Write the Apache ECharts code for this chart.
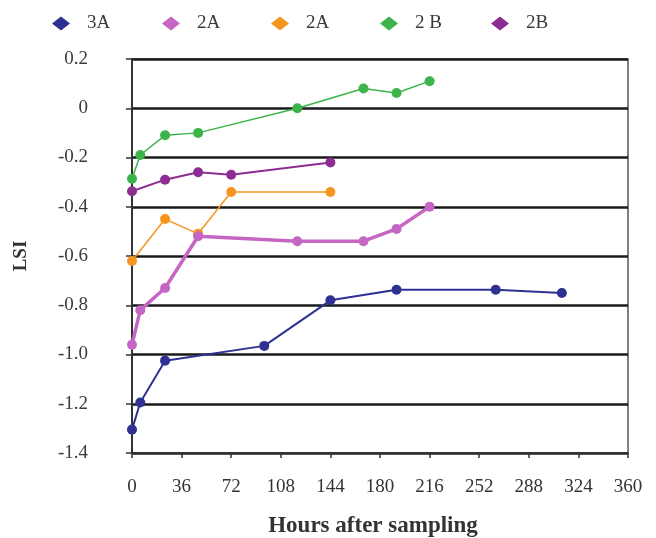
<!DOCTYPE html>
<html>
<head>
<meta charset="utf-8">
<style>
  html, body { margin: 0; padding: 0; background: #fff; }
  #chart { width: 656px; height: 538px; }
</style>
<script src="https://cdn.jsdelivr.net/npm/echarts@6/dist/echarts.min.js"></script>
</head>
<body>
<div id="chart"></div>
<script>
// Hours after sampling (x) and LSI values (y) for each sample
const hours3A = [0, 6, 24, 96, 144, 192, 264, 312];
const lsi3A = [-1.305, -1.195, -1.025, -0.965, -0.78, -0.737, -0.737, -0.75];

const hours2A_pink = [0, 6, 24, 48, 120, 168, 192, 216];
const lsi2A_pink = [-0.96, -0.82, -0.73, -0.52, -0.54, -0.54, -0.49, -0.40];

const hours2A_orange = [0, 24, 48, 72, 144];
const lsi2A_orange = [-0.62, -0.45, -0.51, -0.34, -0.34];

const hours2B_green = [0, 6, 24, 48, 120, 168, 192, 216];
const lsi2B_green = [-0.286, -0.19, -0.11, -0.10, 0.0, 0.08, 0.062, 0.11];

const hours2B_purple = [0, 24, 48, 72, 144];
const lsi2B_purple = [-0.337, -0.29, -0.26, -0.27, -0.22];

// Legend keys and the text shown for each
const seriesKeys = ['s3A', 's2A_pink', 's2A_orange', 's2B_green', 's2B_purple'];
const legendLabels = ['3A', '2A', '2A', '2 B', '2B'];

// Axis tick labels
const yTickValues = [0.2, 0, -0.2, -0.4, -0.6, -0.8, -1.0, -1.2, -1.4];
const yTickLabels = ['0.2', '0', '-0.2', '-0.4', '-0.6', '-0.8', '-1.0', '-1.2', '-1.4'];

const zip = (xs, ys) => xs.map((x, i) => [x, ys[i]]);

const FONT = '"Liberation Serif", "DejaVu Serif", serif';
const colors = ['#2e3192', '#c566c5', '#f7941d', '#3cb44b', '#8e2d91'];

function line(key, xs, ys, color, width, z) {
  return {
    name: key,
    type: 'line',
    data: zip(xs, ys),
    symbol: 'circle',
    symbolSize: 10,
    z: z,
    itemStyle: { color: color },
    lineStyle: { color: color, width: width },
    emphasis: { disabled: true },
    animation: false
  };
}

// One legend block per entry so the entries sit at even spacing
const legendCenters = [61, 171, 280, 389, 500];
const legends = seriesKeys.map((key, i) => ({
  top: 14,
  left: legendCenters[i] - 9,
  padding: 0,
  icon: 'diamond',
  itemWidth: 18,
  itemHeight: 14,
  selectedMode: false,
  data: [key],
  formatter: name => legendLabels[seriesKeys.indexOf(name)],
  textStyle: { fontFamily: FONT, fontSize: 19, color: '#3a3a3a', padding: [0, 0, 0, 12] }
}));

const chart = echarts.init(document.getElementById('chart'), null, { renderer: 'canvas' });
chart.setOption({
  backgroundColor: '#fff',
  animation: false,
  legend: legends,
  grid: {
    left: 132, right: 28, top: 59, bottom: 85,
    containLabel: false,
    outerBoundsMode: 'none',
    show: true, borderColor: '#555', borderWidth: 1.5, backgroundColor: 'transparent'
  },
  xAxis: {
    type: 'value',
    min: 0, max: 360, interval: 36,
    name: 'Hours after sampling',
    nameLocation: 'middle',
    nameGap: 62,
    nameTextStyle: {
      fontFamily: FONT, fontSize: 23, fontWeight: 'bold', color: '#333',
      padding: [0, 14, 0, 0]
    },
    axisLine: { show: true, onZero: false, lineStyle: { color: '#333', width: 2 } },
    axisTick: { show: true, length: 5, lineStyle: { color: '#333', width: 1.5 } },
    axisLabel: { margin: 25, fontFamily: FONT, fontSize: 19, color: '#333' },
    splitLine: { show: false }
  },
  yAxis: {
    type: 'value',
    min: -1.4, max: 0.2, interval: 0.2,
    name: 'LSI',
    nameLocation: 'middle',
    nameGap: 101,
    nameTextStyle: { fontFamily: FONT, fontSize: 19, fontWeight: 'bold', color: '#333' },
    axisLine: { show: true, onZero: false, lineStyle: { color: '#333', width: 2 } },
    axisTick: { show: true, length: 6, lineStyle: { color: '#333', width: 1.5 } },
    axisLabel: {
      margin: 44, fontFamily: FONT, fontSize: 19, color: '#3a3a3a',
      formatter: v => {
        let best = 0;
        yTickValues.forEach((t, i) => { if (Math.abs(t - v) < Math.abs(yTickValues[best] - v)) best = i; });
        return yTickLabels[best];
      }
    },
    splitLine: { show: true, lineStyle: { color: '#1a1a1a', width: 2.5 } }
  },
  series: [
    line('s3A', hours3A, lsi3A, colors[0], 2, 2),
    line('s2A_pink', hours2A_pink, lsi2A_pink, colors[1], 3.5, 4),
    line('s2A_orange', hours2A_orange, lsi2A_orange, colors[2], 1.5, 3),
    line('s2B_green', hours2B_green, lsi2B_green, colors[3], 1.5, 2),
    line('s2B_purple', hours2B_purple, lsi2B_purple, colors[4], 2, 2)
  ]
});
</script>
</body>
</html>
